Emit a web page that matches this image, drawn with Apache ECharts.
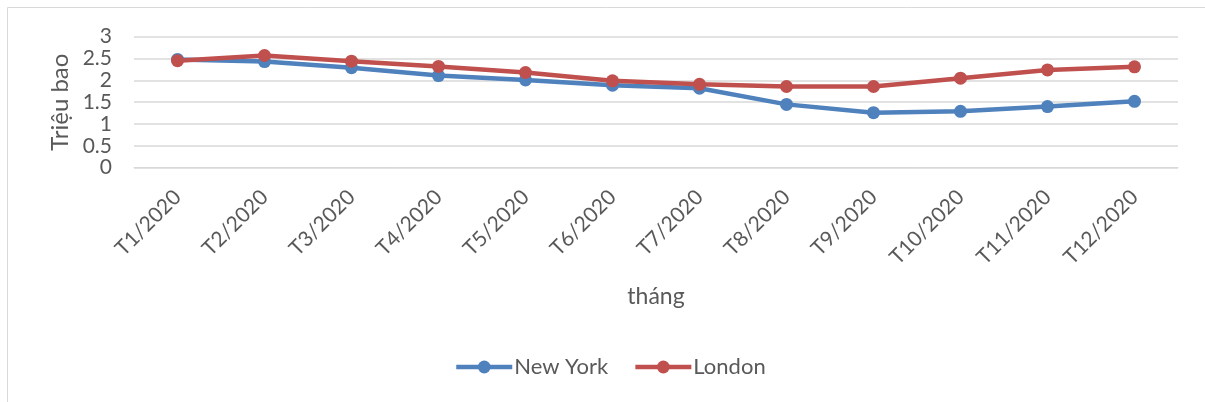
<!DOCTYPE html>
<html>
<head>
<meta charset="utf-8">
<script src="https://cdn.jsdelivr.net/npm/echarts@6/dist/echarts.min.js"></script>
<style>
  html, body { margin: 0; padding: 0; background: #fff; }
  #chart { width: 1205px; height: 402px; }
</style>
</head>
<body>
<div id="chart"></div>
<script>
// Monthly figures, millions of packs
const months = ['T1/2020', 'T2/2020', 'T3/2020', 'T4/2020', 'T5/2020', 'T6/2020',
                'T7/2020', 'T8/2020', 'T9/2020', 'T10/2020', 'T11/2020', 'T12/2020'];
const newYork = [2.48, 2.43, 2.29, 2.11, 2.01, 1.89, 1.82, 1.45, 1.26, 1.29, 1.40, 1.52];
const london  = [2.45, 2.57, 2.44, 2.32, 2.18, 1.99, 1.91, 1.86, 1.86, 2.05, 2.24, 2.31];
const seriesNames = ['New York', 'London'];

const textColor = '#595959';
const gridColor = '#d9d9d9';
const fontFamily = 'Lato, "Open Sans", sans-serif';

const chart = echarts.init(document.getElementById('chart'));
chart.setOption({
  animation: false,
  textStyle: { fontFamily: fontFamily, color: textColor },
  graphic: [{
    type: 'rect',
    shape: { x: 7.5, y: 7.5, width: 1400, height: 600 },
    style: { fill: 'none', stroke: gridColor, lineWidth: 1 },
    silent: true
  }],
  grid: { left: 134, right: 27, top: 36.7, bottom: 234.3, containLabel: false },
  legend: {
    data: seriesNames,
    bottom: 19,
    left: 449,
    itemWidth: 56,
    itemHeight: 16,
    itemGap: 25,
    lineStyle: { width: 4.5 },
    textStyle: { fontSize: 22, color: textColor, fontFamily: fontFamily, padding: [0, 0, 0, -3] }
  },
  xAxis: {
    type: 'category',
    data: months,
    boundaryGap: true,
    name: 'tháng',
    nameLocation: 'middle',
    nameGap: 117,
    nameTextStyle: { fontSize: 23, color: textColor },
    axisLine: { show: true, lineStyle: { color: gridColor, width: 1 } },
    axisTick: { show: false },
    axisLabel: { rotate: 45, fontSize: 21, color: textColor, margin: 26, interval: 0 }
  },
  yAxis: {
    type: 'value',
    min: 0,
    max: 3,
    interval: 0.5,
    name: 'Triệu bao',
    nameLocation: 'middle',
    nameGap: 60,
    nameRotate: 90,
    nameTextStyle: { fontSize: 24, color: textColor },
    axisLine: { show: false },
    axisTick: { show: false },
    axisLabel: { fontSize: 21, color: textColor, margin: 22 },
    splitLine: { lineStyle: { color: gridColor, width: 1.5 } }
  },
  series: [
    {
      name: seriesNames[0],
      type: 'line',
      data: newYork,
      symbol: 'circle',
      symbolSize: 13,
      lineStyle: { color: '#4f81bd', width: 4.5 },
      itemStyle: { color: '#4f81bd' }
    },
    {
      name: seriesNames[1],
      type: 'line',
      data: london,
      symbol: 'circle',
      symbolSize: 13,
      lineStyle: { color: '#c0504d', width: 4.5 },
      itemStyle: { color: '#c0504d' }
    }
  ]
});
</script>
</body>
</html>
